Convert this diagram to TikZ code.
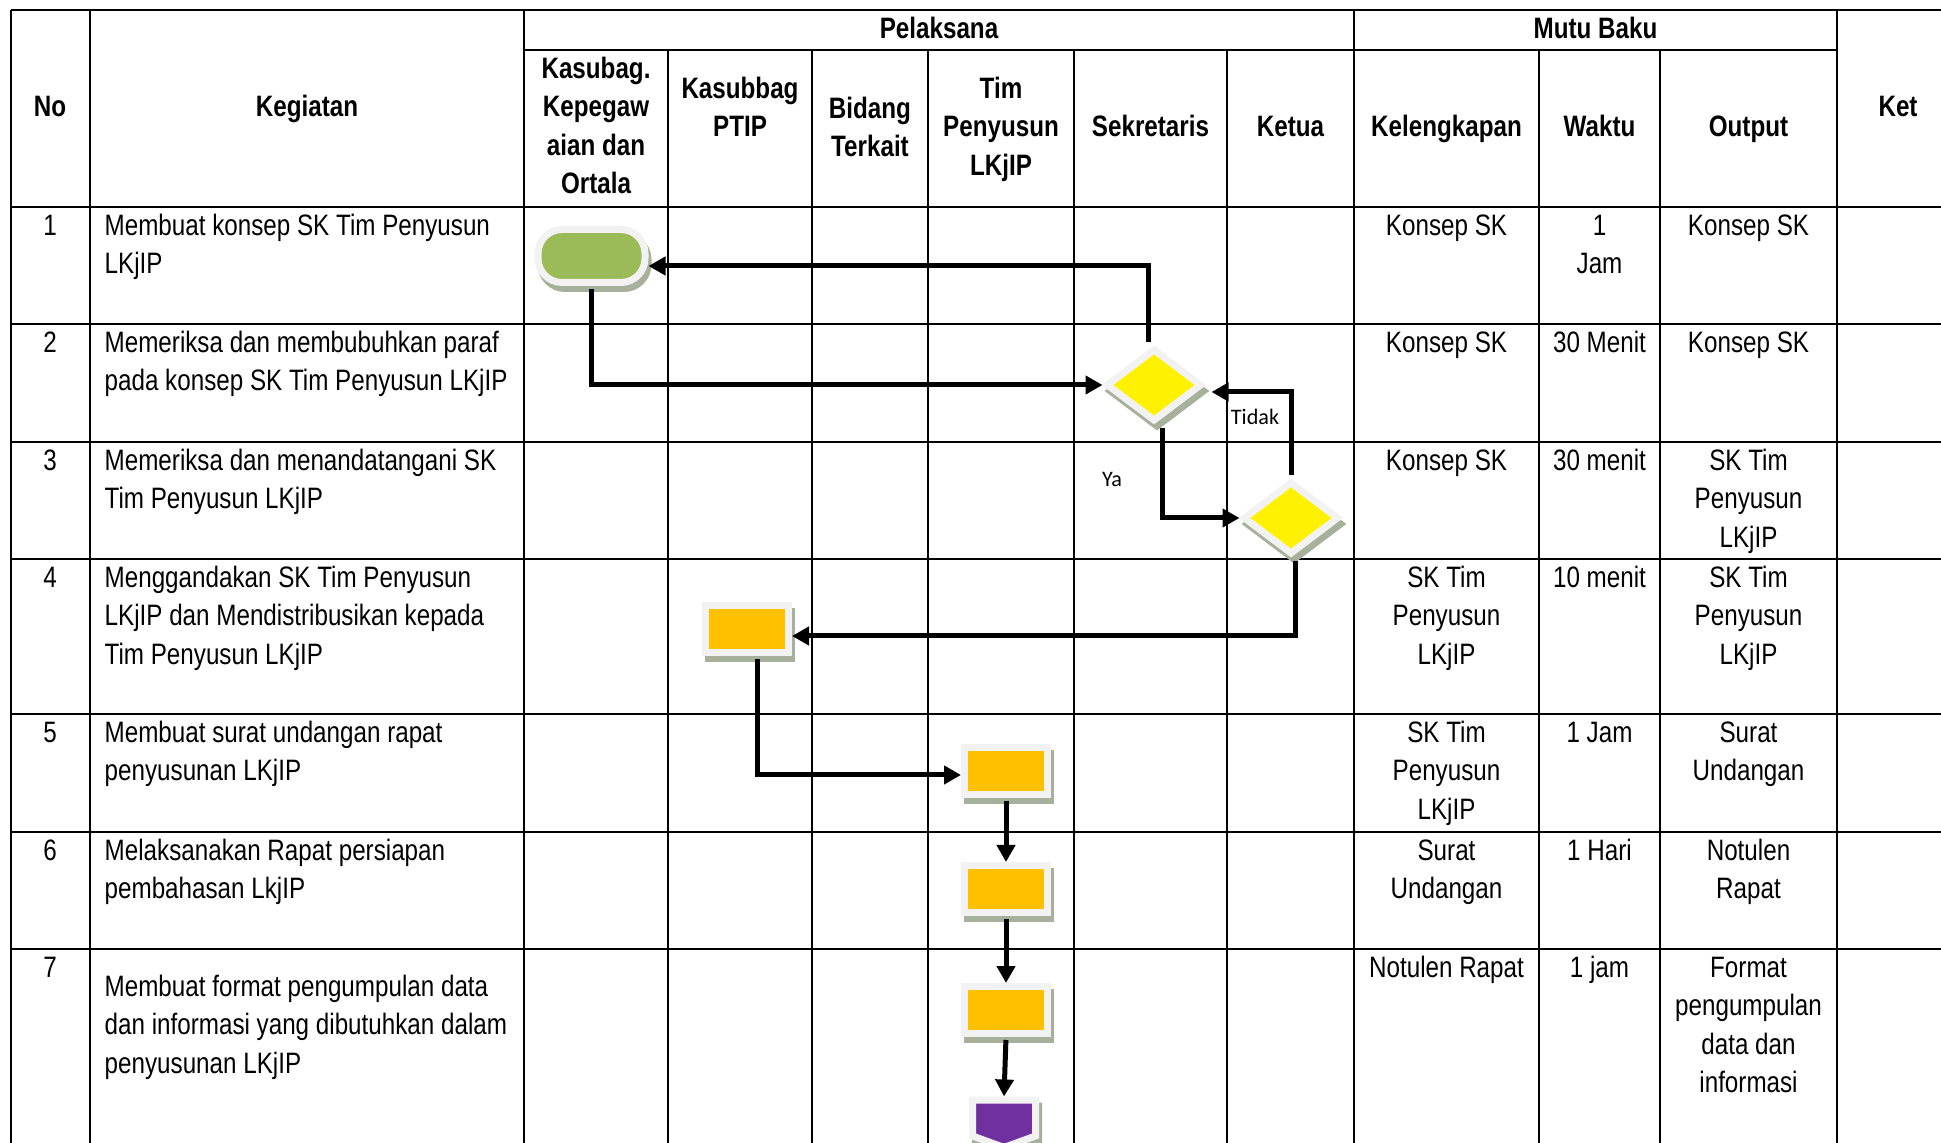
\documentclass[tikz,border=0pt]{standalone}
\usepackage{fontspec}
\setmainfont{Liberation Sans}[FakeStretch=0.82]
\newfontfamily\labelfont{Carlito}
\usetikzlibrary{arrows.meta, shapes.geometric, shapes.symbols, shadows}

\definecolor{olivefill}{HTML}{9BBB59}
\definecolor{goldfill}{HTML}{FFC000}
\definecolor{purplefill}{HTML}{7030A0}
\definecolor{framegray}{HTML}{F2F2F2}
\definecolor{shadowgray}{HTML}{A7B09A}
\newcommand\cellfont{\fontsize{8.4}{10.9}\selectfont}

\begin{document}
\begin{tikzpicture}[
            x=0.1mm, y=-0.1mm,
            grid line/.style={line width=0.27mm},
            flow/.style={
                line width=0.5mm,
                -{Triangle[length=1.7mm, width=1.8mm]},
                shorten <=0.3mm
            },
            framed/.style={
                draw=framegray, line width=0.7mm, inner sep=0pt,
                general shadow={fill=shadowgray, draw=shadowgray, line width=0.7mm,
                    shadow xshift=0.3mm, shadow yshift=-0.6mm}
            },
            terminal/.style={framed, rectangle, rounded corners=2.4mm, fill=olivefill,
                minimum width=10.7mm, minimum height=5.3mm},
            process/.style={framed, rectangle, fill=goldfill,
                minimum width=8.3mm, minimum height=4.7mm},
            decision/.style={framed, diamond, fill=yellow,
                minimum width=9.6mm, minimum height=7.3mm},
            offpage/.style={framed, signal, signal to=south, signal from=nowhere,
                signal pointer angle=140, fill=purplefill,
                minimum width=6.3mm, minimum height=3.6mm},
            head/.style={font=\cellfont\bfseries, align=center, inner sep=0pt, anchor=north},
            cell/.style={font=\cellfont, align=center, inner sep=0pt, anchor=north},
            task/.style={font=\cellfont, align=left, inner sep=0pt, anchor=north west},
            branch label/.style={font=\labelfont\fontsize{6.3}{7.5}\selectfont, inner sep=0pt},
        ]
        \def\rowA{207}
        \def\rowB{324}
        \def\rowC{442}
        \def\rowD{559}
        \def\rowE{714}
        \def\rowF{832}
        \def\rowG{949}
        \def\colNo{50}
        \def\colKeg{104}
        \def\colKel{1446.5}
        \def\colWak{1599.5}
        \def\colOut{1748.5}

        \useasboundingbox (0,0) rectangle (1941,1143);
        \clip (0,0) rectangle (1941,1143);

        % table rules
        \draw[grid line] (11,10) -- (1980,10);
        \draw[grid line] (524,50) -- (1837,50);
        \draw[grid line] (11,\rowA) -- (1980,\rowA);
        \draw[grid line] (11,\rowB) -- (1980,\rowB);
        \draw[grid line] (11,\rowC) -- (1980,\rowC);
        \draw[grid line] (11,\rowD) -- (1980,\rowD);
        \draw[grid line] (11,\rowE) -- (1980,\rowE);
        \draw[grid line] (11,\rowF) -- (1980,\rowF);
        \draw[grid line] (11,\rowG) -- (1980,\rowG);

        \draw[grid line] (11,10) -- (11,1160);
        \draw[grid line] (90,10) -- (90,1160);
        \draw[grid line] (524,10) -- (524,1160);
        \draw[grid line] (1354,10) -- (1354,1160);
        \draw[grid line] (1837,10) -- (1837,1160);
        \draw[grid line] (668,50) -- (668,1160);
        \draw[grid line] (812,50) -- (812,1160);
        \draw[grid line] (928,50) -- (928,1160);
        \draw[grid line] (1074,50) -- (1074,1160);
        \draw[grid line] (1227,50) -- (1227,1160);
        \draw[grid line] (1539,50) -- (1539,1160);
        \draw[grid line] (1660,50) -- (1660,1160);

        % header
        \node[head] (hNo) at (\colNo,89) {\strut No};
        \node[head] (hKeg) at (307,89) {\strut Kegiatan};
        \node[head] (hKet) at (1898,89) {\strut Ket};
        \node[head] (hPel) at (939,10.5) {\strut Pelaksana};
        \node[head] (hMutu) at (1595.5,10.5) {\strut Mutu Baku};
        \node[head] (hKepeg) at (596,51) {\strut Kasubag.\\Kepegaw\\aian dan\\Ortala};
        \node[head] (hPtip) at (740,71) {\strut Kasubbag\\PTIP};
        \node[head] (hBid) at (870,91) {\strut Bidang\\Terkait};
        \node[head] (hTim) at (1001,71) {\strut Tim\\Penyusun\\LKjIP};
        \node[head] (hSek) at (1150.5,109) {\strut Sekretaris};
        \node[head] (hKetua) at (1290.5,109) {\strut Ketua};
        \node[head] (hKel) at (\colKel,109) {\strut Kelengkapan};
        \node[head] (hWak) at (\colWak,109) {\strut Waktu};
        \node[head] (hOut) at (\colOut,109) {\strut Output};

        % rows
        \node[cell] (noA) at (\colNo,\rowA+1) {\strut 1};
        \node[task] (kegA) at (\colKeg,\rowA+1) {\strut Membuat konsep SK Tim Penyusun\\LKjIP};
        \node[cell] (kelA) at (\colKel,\rowA+1) {\strut Konsep SK};
        \node[cell] (wakA) at (\colWak,\rowA+1) {\strut 1\\Jam};
        \node[cell] (outA) at (\colOut,\rowA+1) {\strut Konsep SK};

        \node[cell] (noB) at (\colNo,\rowB+1) {\strut 2};
        \node[task] (kegB) at (\colKeg,\rowB+1) {\strut Memeriksa dan membubuhkan paraf\\pada konsep SK Tim Penyusun LKjIP};
        \node[cell] (kelB) at (\colKel,\rowB+1) {\strut Konsep SK};
        \node[cell] (wakB) at (\colWak,\rowB+1) {\strut 30 Menit};
        \node[cell] (outB) at (\colOut,\rowB+1) {\strut Konsep SK};

        \node[cell] (noC) at (\colNo,\rowC+1) {\strut 3};
        \node[task] (kegC) at (\colKeg,\rowC+1) {\strut Memeriksa dan menandatangani SK\\Tim Penyusun LKjIP};
        \node[cell] (kelC) at (\colKel,\rowC+1) {\strut Konsep SK};
        \node[cell] (wakC) at (\colWak,\rowC+1) {\strut 30 menit};
        \node[cell] (outC) at (\colOut,\rowC+1) {\strut SK Tim\\Penyusun\\LKjIP};

        \node[cell] (noD) at (\colNo,\rowD+1) {\strut 4};
        \node[task] (kegD) at (\colKeg,\rowD+1) {\strut Menggandakan SK Tim Penyusun\\LKjIP dan Mendistribusikan kepada\\Tim Penyusun LKjIP};
        \node[cell] (kelD) at (\colKel,\rowD+1) {\strut SK Tim\\Penyusun\\LKjIP};
        \node[cell] (wakD) at (\colWak,\rowD+1) {\strut 10 menit};
        \node[cell] (outD) at (\colOut,\rowD+1) {\strut SK Tim\\Penyusun\\LKjIP};

        \node[cell] (noE) at (\colNo,\rowE+1) {\strut 5};
        \node[task] (kegE) at (\colKeg,\rowE+1) {\strut Membuat surat undangan rapat\\penyusunan LKjIP};
        \node[cell] (kelE) at (\colKel,\rowE+1) {\strut SK Tim\\Penyusun\\LKjIP};
        \node[cell] (wakE) at (\colWak,\rowE+1) {\strut 1 Jam};
        \node[cell] (outE) at (\colOut,\rowE+1) {\strut Surat\\Undangan};

        \node[cell] (noF) at (\colNo,\rowF+1) {\strut 6};
        \node[task] (kegF) at (\colKeg,\rowF+1) {\strut Melaksanakan Rapat persiapan\\pembahasan LkjIP};
        \node[cell] (kelF) at (\colKel,\rowF+1) {\strut Surat\\Undangan};
        \node[cell] (wakF) at (\colWak,\rowF+1) {\strut 1 Hari};
        \node[cell] (outF) at (\colOut,\rowF+1) {\strut Notulen\\Rapat};

        \node[cell] (noG) at (\colNo,\rowG+1) {\strut 7};
        \node[task] (kegG) at (\colKeg,\rowG+20) {\strut Membuat format pengumpulan data\\dan informasi yang dibutuhkan dalam\\penyusunan LKjIP};
        \node[cell] (kelG) at (\colKel,\rowG+1) {\strut Notulen Rapat};
        \node[cell] (wakG) at (\colWak,\rowG+1) {\strut 1 jam};
        \node[cell] (outG) at (\colOut,\rowG+1) {\strut Format\\pengumpulan\\data dan\\informasi};

        % flow symbols
        \node[terminal] (term) at (591.5,256) {};
        \node[decision] (dsek) at (1154,385) {};
        \node[decision] (dket) at (1291,518) {};
        \node[process] (ptip) at (747,629.5) {};
        \node[process] (timA) at (1006,771) {};
        \node[process] (timB) at (1006,889) {};
        \node[process] (timC) at (1006,1010) {};
        \node[offpage, anchor=north] (akhir) at (1004,1096.5) {};

        \draw[flow] ([xshift=-0.6mm]dsek.north) |- ([yshift=-1mm]term.east);
        \draw[flow] (term.south) |- (dsek.west);
        \draw[flow] ([xshift=0.8mm]dsek.south) |- (dket.west);
        \draw[flow, shorten >=0.6mm] (dket.north) |- ([yshift=-0.7mm]dsek.east);
        \draw[flow] ([xshift=0.4mm]dket.south) |- ([yshift=-0.65mm]ptip.east);
        \draw[flow] ([xshift=1mm]ptip.south) |- ([yshift=-0.4mm]timA.west);
        \draw[flow] (timA) -- (timB);
        \draw[flow] (timB) -- (timC);
        \draw[flow] (timC.south) -- (akhir.north);

        \node[branch label] (ya) at (1112,479) {Ya};
        \node[branch label] (tidak) at (1255,417) {Tidak};
        \end{tikzpicture}
\end{document}
